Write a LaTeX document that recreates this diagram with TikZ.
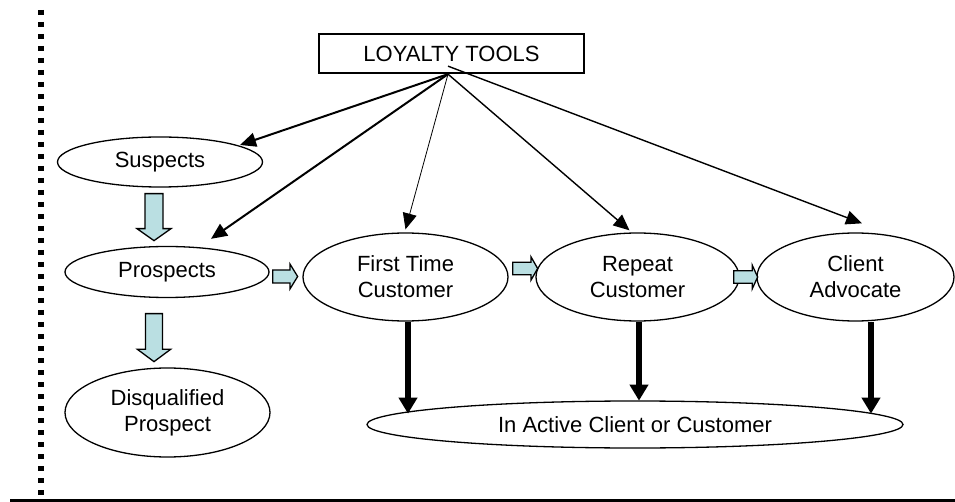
\documentclass[tikz,border=0pt]{standalone}
\usepackage{fontspec}
\setmainfont{Liberation Sans}
\usetikzlibrary{shapes.geometric,arrows.meta,calc}

\definecolor{flowfill}{RGB}{186,223,226}

\begin{document}
\begin{tikzpicture}[x=1pt,y=-1pt,
  font=\fontsize{22}{26}\selectfont,
  stage/.style={ellipse, draw, line width=1.3pt, inner sep=0pt, align=center},
  toolline/.style={-{Triangle[width=14pt,length=16pt]}},
  drop/.style={line width=6.5pt, -{Triangle[width=18pt,length=16pt]}},
  % block arrow: length, half head width, half shaft width, head length
  pics/flow/.style n args={4}{code={
    \draw[line width=1.3pt, fill=flowfill, line join=miter]
      (0,-#3) -- (#1-#4,-#3) -- (#1-#4,-#2) -- (#1,0) -- (#1-#4,#2)
      -- (#1-#4,#3) -- (0,#3) -- cycle;}}
]
\useasboundingbox (0,0) rectangle (955,502);

% margin rules
\draw[line width=5.5pt, dash pattern=on 5pt off 7pt] (41,10) -- (41,500);
\draw[line width=2.5pt] (10,500.5) -- (955,500.5);

% stages
\node[draw, line width=1.3pt, minimum width=265pt, minimum height=39pt, inner sep=0pt]
  (tools) at (451.5,53.5) {LOYALTY TOOLS};
\node[stage, minimum width=205pt, minimum height=50pt] (sus) at (160,162) {Suspects};
\node[stage, minimum width=204pt, minimum height=51pt] (pro) at (167,272) {Prospects};
\node[stage, minimum width=205pt, minimum height=89pt] (dis) at (167.5,412.5) {Disqualified\\Prospect};
\node[stage, minimum width=205pt, minimum height=88pt] (ftc) at (405.5,277) {First Time\\Customer};
\node[stage, minimum width=203pt, minimum height=88pt] (rep) at (637.5,277) {Repeat\\Customer};
\node[stage, minimum width=197pt, minimum height=88pt] (adv) at (855.5,277) {Client\\Advocate};
\node[stage, minimum width=536pt, minimum height=47pt] (ina) at (635,424.5) {In Active Client or Customer};

% where the tool lines start and end
\coordinate (src)  at ($(tools.south)+(-3.5,0.5)$);
\coordinate (src2) at ($(tools.south)+(-3.5,-7.5)$);
\coordinate (tsus) at ($(sus.center)+(80,-17)$);
\coordinate (tpro) at ($(pro.north)+(44,-7)$);
\coordinate (tftc) at ($(ftc.north)+(0,-3)$);
\coordinate (trep) at ($(rep.north)+(-8,-2)$);
\coordinate (tadv) at ($(adv.north)+(6.5,-9)$);

% loyalty tool connectors
\draw[toolline, line width=2pt] (src) -- (tsus);
\draw[toolline, line width=2pt] (src) -- (tpro);
\draw[toolline, line width=0.8pt] (src) -- (tftc);
\draw[toolline, line width=1.4pt] (src) -- (trep);
\draw[toolline, line width=1.4pt] (src2) -- (tadv);

% progression block arrows
\pic[rotate=-90] at ($(sus.south)+(-6,6)$) {flow={47}{17}{9}{12}};
\pic[rotate=-90] at ($(pro.south)+(-13,15.5)$) {flow={48}{16.7}{8.5}{12.4}};
\pic at ($(pro.east)+(3,4.5)$) {flow={25}{12.5}{6.5}{7.7}};
\pic at ($(ftc.east)+(4,-8.5)$) {flow={25}{11.7}{6.3}{6.7}};
\pic at ($(rep.east)+(-6,0)$) {flow={24}{12}{6.3}{5.5}};

% drop-out arrows
\draw[drop] ($(ftc.south)+(2.5,0)$) -- ($(ftc.south)+(2.5,92)$);
\draw[drop] ($(rep.south)+(1.5,0)$) -- ($(rep.south)+(1.5,79)$);
\draw[drop] ($(adv.south)+(15.5,0)$) -- ($(adv.south)+(15.5,92)$);
\end{tikzpicture}
\end{document}
